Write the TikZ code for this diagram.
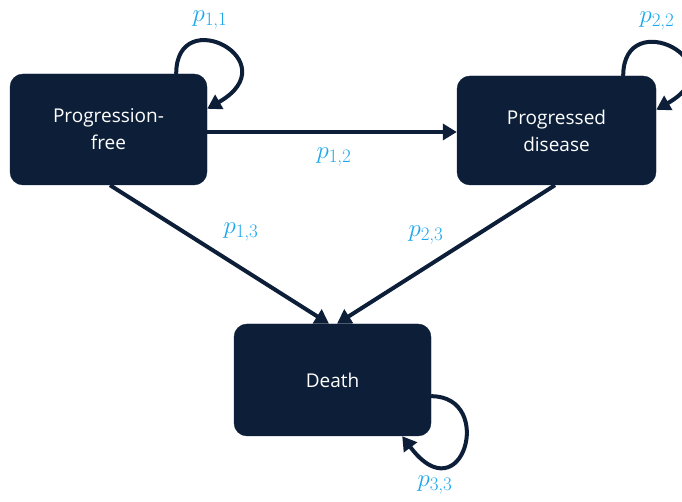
\documentclass[tikz,border=0pt]{standalone}
\usepackage{fontspec}
\newfontfamily\nodefont{Open Sans}
\usetikzlibrary{arrows.meta}
\definecolor{navy}{HTML}{0D1F38}
\definecolor{plblue}{HTML}{1CA7EC}
\newcommand\pl[2]{\fontsize{28}{32}\selectfont$p_{\hbox{\fontsize{19}{22}\selectfont #1,#2}}$}
\tikzset{
  stbox/.style={draw=navy, fill=navy, rounded corners=13pt, inner sep=0pt,
    text=white, font=\nodefont\fontsize{19}{27}\selectfont, align=center},
  arr/.style={draw=navy, line width=4pt, -{Triangle[length=14pt,width=16pt]}},
  plab/.style={text=plblue, inner sep=0pt},
}
\begin{document}
\begin{tikzpicture}[x=1pt,y=1pt]
\useasboundingbox (0,0) rectangle (682,502);
\clip (0,0) rectangle (682,502);
\node[stbox, minimum width=197pt, minimum height=111pt] (pf) at (108.5,372.5) {Progression-\\free};
\node[stbox, minimum width=199pt, minimum height=109pt] (pd) at (556.5,371.5) {Progressed\\disease};
\node[stbox, minimum width=197pt, minimum height=112pt] (de) at (332.5,122) {Death};

\draw[arr] ([yshift=-2.5pt]pf.east) -- ([yshift=-2.5pt]pf.east -| pd.west);
\draw[arr] ([xshift=1.5pt]pf.south) -- ([xshift=-3.5pt]de.north);
\draw[arr] ([xshift=-1.5pt]pd.south) -- ([xshift=4.5pt]de.north);

\draw[arr] ([xshift=-31pt]pf.north east) .. controls +(0,72) and +(83,47.5) .. ([yshift=-35pt]pf.north east);
\draw[arr] ([xshift=-33pt]pd.north east) .. controls +(0,72) and +(83,47.5) .. ([yshift=-34pt]pd.north east);
\draw[arr] ([yshift=40pt]de.south east) .. controls +(65,0) and +(60,-80) .. ([xshift=-29pt]de.south east);

\node[plab] (l11) at (210,482) {\pl{1}{1}};
\node[plab] (l12) at (334,345) {\pl{1}{2}};
\node[plab] (l13) at (241,270) {\pl{1}{3}};
\node[plab] (l23) at (426,267) {\pl{2}{3}};
\node[plab] (l22) at (657,481) {\pl{2}{2}};
\node[plab] (l33) at (435,17) {\pl{3}{3}};
\end{tikzpicture}
\end{document}
